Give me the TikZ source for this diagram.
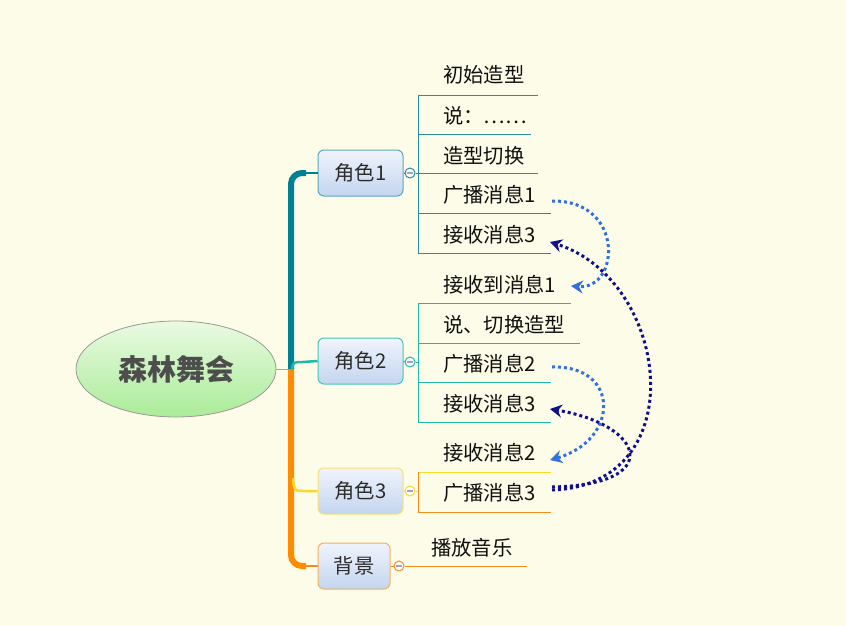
\documentclass[tikz,border=0pt]{standalone}
\usepackage{fontspec}
\newfontfamily\cjk{Noto Sans CJK SC}
\usetikzlibrary{arrows.meta,shapes.geometric}
\definecolor{bg}{RGB}{253,252,232}
\definecolor{txt}{RGB}{15,15,15}
\definecolor{ntxt}{RGB}{45,45,45}
\definecolor{nt}{RGB}{240,244,252}
\definecolor{nb}{RGB}{195,213,239}
\definecolor{teal1}{RGB}{0,128,148}
\definecolor{c1}{RGB}{40,140,165}
\definecolor{c1b}{RGB}{90,168,192}
\definecolor{c2}{RGB}{32,184,168}
\definecolor{c2b}{RGB}{64,200,184}
\definecolor{c3}{RGB}{250,218,40}
\definecolor{c3b}{RGB}{248,224,112}
\definecolor{or1}{RGB}{255,140,0}
\definecolor{c4}{RGB}{245,140,30}
\definecolor{c4b}{RGB}{244,176,96}
\definecolor{lb}{RGB}{48,112,224}
\definecolor{nv}{RGB}{16,16,140}
\definecolor{minus}{RGB}{160,160,200}
\newcommand{\kidfont}{\cjk\fontsize{20.3}{20.3}\selectfont}
\begin{document}
\begin{tikzpicture}[x=1pt,y=-1pt,
  kid/.style={anchor=west,inner sep=0pt,font=\kidfont,text=txt},
  topic/.style={draw,rounded corners=6pt,minimum width=85pt,minimum height=46pt,top color=nt,bottom color=nb,line width=1pt,font=\kidfont,text=ntxt,inner sep=0pt},
  fold/.style={circle,draw,fill=white,minimum size=10pt,inner sep=0pt,line width=1pt},
  link/.style={line width=3pt,dash pattern=on 3pt off 3pt,-{Stealth[length=12pt,width=13pt,inset=4pt]}}
]
\useasboundingbox[fill=bg] (0,0) rectangle (846,626);

% root
\node[ellipse,draw=gray!80,line width=0.8pt,minimum width=200pt,minimum height=96pt,inner sep=0pt,
      top color={rgb,255:red,234;green,250;blue,226},bottom color={rgb,255:red,170;green,236;blue,152},
      text={rgb,255:red,77;green,77;blue,77},font=\cjk\bfseries\fontsize{29}{29}\selectfont] (root) at (176,369) {森林舞会};

% main topics
\node[topic,draw=c1b] (r1) at (360.5,173) {角色1};
\node[topic,draw=c2b] (r2) at (360.5,361) {角色2};
\node[topic,draw=c3b] (r3) at (360.5,491) {角色3};
\node[topic,draw=c4b,minimum width=72pt] (bj) at (354,566) {背景};

% trunk
\coordinate (j) at (291,369);
\draw[gray!70,line width=1pt] (root.east) -- (j);
\draw[teal1,line width=6pt,rounded corners=11pt] (306,173) -| (j);
\draw[teal1,line width=2pt] (304,173) -- (r1.west);
\draw[or1,line width=6pt,rounded corners=11pt] (j) |- (306,566);
\draw[c4,line width=2pt] (304,566) -- (bj.west);
\draw[c2,line width=2.5pt] (292,370) .. controls (293,362) .. (303,362) -- (r2.west);
\draw[c3,line width=2.5pt] (293,478) .. controls (294,491) .. (306,491) -- (r3.west);

% fold circles
\node[fold,draw=c1] (k1) at (410,173) {};
\node[fold,draw=c2] (k2) at (410,362) {};
\node[fold,draw=c3] (k3) at (410,491) {};
\node[fold,draw=c4] (k4) at (399,566) {};
\foreach \k in {k1,k2,k3,k4}
  \draw[minus,line width=1.6pt] ([xshift=-3pt]\k.center) -- ([xshift=3pt]\k.center);
\draw[c1,line width=1pt] (r1.east) -- (k1.west);
\draw[c2,line width=1pt] (r2.east) -- (k2.west);
\draw[c3,line width=1pt] (r3.east) -- (k3.west);
\draw[c4,line width=1pt] (bj.east) -- (k4.west);

% children of r1
\node[kid] (a1) at (443,75) {初始造型};
\node[kid] (a2) at (443,116) {说：……};
\node[kid] (a3) at (443,156) {造型切换};
\node[kid] (a4) at (443,195) {广播消息1};
\node[kid] (a5) at (443,235) {接收消息3};
\begin{scope}[c1,line width=1pt]
\draw (k1.east) -- (418,173);
\draw (418,95) -- (418,253);
\draw (418,95) -- (538,95);
\draw (418,134) -- (531,134);
\draw (418,173) -- (538,173);
\draw (418,213) -- (551,213);
\draw (418,253) -- (551,253);
\end{scope}
\coordinate (a4e) at (552,201);
\coordinate (a5e) at (550,242);

% children of r2
\node[kid] (b1) at (443,285) {接收到消息1};
\node[kid] (b2) at (443,325) {说、切换造型};
\node[kid] (b3) at (443,364) {广播消息2};
\node[kid] (b4) at (443,404) {接收消息3};
\begin{scope}[c2,line width=1pt]
\draw (k2.east) -- (418,362);
\draw (418,303) -- (418,422);
\draw (418,303) -- (571,303);
\draw (418,343) -- (580,343);
\draw (418,382) -- (551,382);
\draw (418,422) -- (551,422);
\end{scope}
\coordinate (b1e) at (571,286);
\coordinate (b3e) at (552,367);
\coordinate (b4e) at (550,409);

% children of r3
\node[kid] (c1n) at (443,453) {接收消息2};
\node[kid] (c2n) at (443,493) {广播消息3};
\draw[c3,line width=1pt] (k3.east) -- (418,491);
\draw[c3,line width=1pt] (418,472) -- (551,472);
\draw[c4,line width=1pt] (418,472) -- (418,512) -- (551,512);
\coordinate (c1e) at (550,460);
\coordinate (c2e) at (552,490);
\coordinate (c2f) at (552,487);

% child of bj
\node[kid] (d1) at (431,548) {播放音乐};
\draw[c4,line width=1pt] (k4.east) -- (527,566);

% message links
\draw[link,lb] (a4e) .. controls (625,200) and (620,290) .. (b1e);
\draw[link,nv] (c2e) .. controls (695,485) and (670,280) .. (a5e);
\draw[link,lb] (b3e) .. controls (620,365) and (620,440) .. (c1e);
\draw[link,nv] (c2f) .. controls (665,485) and (645,425) .. (b4e);
\end{tikzpicture}
\end{document}
